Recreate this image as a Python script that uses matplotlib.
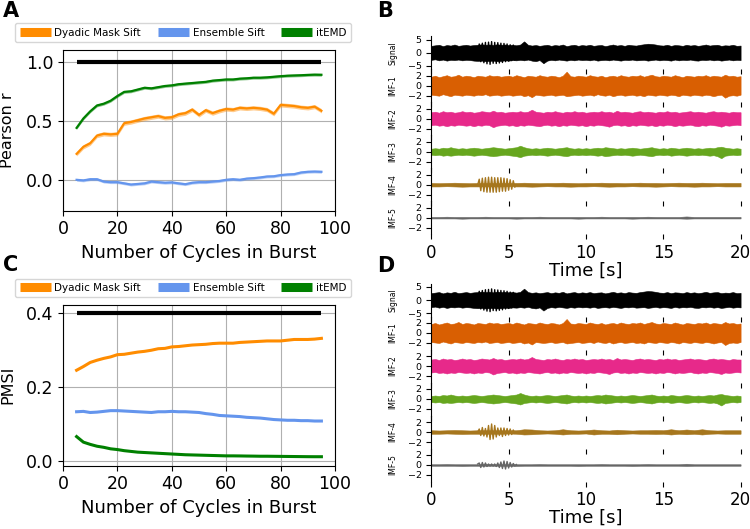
import numpy as np
import matplotlib.pyplot as plt
from matplotlib.lines import Line2D

# ---------------- A / C : burst simulation summary ----------------
cycles = np.arange(5, 95.1, 2.5)
method_names = ['Dyadic Mask Sift', 'Ensemble Sift', 'itEMD']

r_dyadic = [0.22, 0.28, 0.31, 0.375, 0.39, 0.385, 0.39, 0.48, 0.49, 0.505, 0.52, 0.53, 0.54,
            0.525, 0.53, 0.555, 0.565, 0.595, 0.55, 0.59, 0.565, 0.585, 0.60, 0.595, 0.61,
            0.605, 0.61, 0.605, 0.595, 0.56, 0.635, 0.63, 0.625, 0.615, 0.61, 0.62, 0.585]
r_ensemble = [0.0, -0.005, 0.005, 0.005, -0.015, -0.02, -0.02, -0.03, -0.04, -0.035, -0.03,
              -0.015, -0.02, -0.025, -0.022, -0.03, -0.037, -0.025, -0.02, -0.02, -0.015,
              -0.01, 0.0, 0.005, 0.0, 0.01, 0.014, 0.02, 0.028, 0.03, 0.04, 0.045, 0.048,
              0.062, 0.068, 0.07, 0.068]
r_itemd = [0.44, 0.52, 0.58, 0.63, 0.645, 0.67, 0.71, 0.745, 0.75, 0.765, 0.78, 0.775, 0.785,
           0.795, 0.80, 0.81, 0.815, 0.82, 0.825, 0.83, 0.84, 0.845, 0.85, 0.85, 0.857, 0.86,
           0.865, 0.865, 0.868, 0.873, 0.878, 0.882, 0.884, 0.886, 0.889, 0.891, 0.89]
r_sem = [0.018, 0.012, 0.012]
r_ceiling = 1.0

pmsi_dyadic = [0.245, 0.255, 0.266, 0.272, 0.277, 0.281, 0.287, 0.288, 0.291, 0.294, 0.296,
               0.299, 0.303, 0.304, 0.308, 0.309, 0.311, 0.313, 0.314, 0.315, 0.317, 0.318,
               0.318, 0.318, 0.32, 0.321, 0.322, 0.323, 0.324, 0.324, 0.324, 0.326, 0.328,
               0.328, 0.328, 0.329, 0.331]
pmsi_ensemble = [0.133, 0.134, 0.131, 0.132, 0.134, 0.136, 0.136, 0.135, 0.134, 0.133, 0.132,
                 0.131, 0.133, 0.133, 0.134, 0.133, 0.133, 0.132, 0.131, 0.128, 0.126, 0.123,
                 0.122, 0.121, 0.12, 0.118, 0.117, 0.116, 0.114, 0.112, 0.111, 0.11, 0.11,
                 0.109, 0.109, 0.108, 0.108]
pmsi_itemd = [0.066, 0.051, 0.045, 0.04, 0.037, 0.033, 0.031, 0.028, 0.026, 0.024, 0.023,
              0.022, 0.021, 0.02, 0.019, 0.018, 0.017, 0.0165, 0.016, 0.0155, 0.015, 0.0145,
              0.014, 0.014, 0.0138, 0.0135, 0.0133, 0.013, 0.013, 0.0128, 0.0126, 0.0124,
              0.0122, 0.012, 0.0118, 0.0117, 0.0117]
pmsi_ceiling = 0.4

# ---------------- B / D : example decompositions ----------------
# upper/lower edges of the noisy traces every 0.25 s (thin traces every 0.5 s),
# burst peaks/troughs every 0.1 s
env_t = np.arange(0, 20.01, 0.25)
base_t = np.arange(0, 20.01, 0.5)
burst_t = np.arange(3.0, 5.51, 0.1)

sig_hi = [2.6, 2.8, 3.0, 2.5, 2.9, 2.7, 3.1, 2.6, 2.8, 3.0,
          2.7, 2.9, 3.0, 3.2, 3.0, 3.1, 2.9, 3.2, 3.0, 3.1,
          2.9, 3.0, 2.8, 3.1, 4.3, 3.0, 2.7, 2.9, 2.6, 2.8,
          3.0, 2.6, 2.9, 2.7, 3.1, 2.5, 2.8, 3.0, 2.6, 2.9,
          2.7, 3.0, 2.6, 2.8, 2.9, 2.5, 2.8, 3.1, 2.7, 2.9,
          2.6, 3.0, 2.8, 2.7, 3.0, 3.2, 3.4, 3.3, 3.1, 2.8,
          2.7, 3.0, 2.6, 2.9, 2.8, 2.6, 3.0, 2.7, 2.9, 2.6,
          2.8, 3.1, 2.7, 2.9, 3.0, 2.6, 2.8, 2.7, 3.0, 2.6,
          2.7]
sig_lo = [-2.7, -2.5, -2.9, -2.6, -3.0, -2.7, -2.8, -2.6, -2.9, -2.7,
          -2.8, -3.0, -3.1, -3.0, -3.2, -3.1, -3.0, -3.2, -3.1, -2.9,
          -3.0, -2.8, -2.9, -2.7, -2.9, -2.6, -3.0, -3.2, -2.8, -4.0,
          -3.0, -2.7, -2.9, -2.6, -2.8, -3.0, -2.7, -2.9, -2.6, -2.8,
          -2.7, -2.9, -2.6, -3.0, -2.8, -2.7, -2.9, -2.6, -2.8, -3.0,
          -2.7, -2.8, -2.6, -2.9, -2.8, -2.7, -3.0, -2.8, -2.6, -2.9,
          -2.7, -2.8, -3.0, -2.6, -2.9, -2.7, -2.8, -2.6, -2.9, -3.0,
          -2.7, -2.8, -2.6, -2.9, -2.7, -3.0, -2.8, -2.6, -2.9, -2.7,
          -2.8]
sig_burst = [0.0, 3.3, -3.4, 3.6, -3.8, 3.9, -4.2, 4.0, -4.4, 4.2, -4.0, 3.9, -4.1, 3.8,
             -3.9, 3.6, -3.7, 3.5, -3.4, 3.3, -3.2, 3.0, -3.0, 2.9, -2.8, 0.0]

imf1_hi = [1.8, 2.0, 1.7, 1.9, 2.1, 1.8, 1.9, 2.2, 1.8, 2.0,
           1.9, 1.7, 2.0, 1.9, 1.8, 2.1, 1.9, 2.0, 1.8, 1.9,
           2.0, 1.8, 2.1, 1.9, 1.7, 2.0, 1.9, 1.8, 2.1, 1.9,
           1.8, 2.0, 1.9, 1.7, 2.0, 2.8, 1.9, 1.8, 2.0, 1.9,
           1.8, 2.1, 1.9, 1.8, 2.0, 1.7, 1.9, 2.0, 1.8, 2.1,
           1.9, 1.8, 2.0, 1.9, 2.1, 1.8, 2.0, 2.2, 1.9, 1.8,
           2.0, 1.9, 1.8, 2.1, 1.9, 1.7, 2.0, 1.9, 1.8, 2.0,
           1.9, 2.1, 1.8, 2.0, 1.9, 1.8, 2.2, 1.9, 2.0, 1.8,
           1.9]
imf1_lo = [-1.8, -1.9, -2.0, -1.7, -1.9, -2.1, -1.8, -1.9, -2.0, -1.8,
           -1.9, -2.0, -1.8, -1.9, -1.7, -2.0, -1.9, -1.8, -2.0, -1.9,
           -1.8, -2.0, -1.9, -1.8, -2.1, -1.9, -2.3, -1.8, -1.9, -2.0,
           -1.9, -1.8, -2.0, -1.9, -1.8, -2.1, -2.0, -1.9, -1.8, -2.0,
           -1.9, -1.8, -2.0, -1.7, -1.9, -2.0, -1.8, -2.1, -1.9, -1.8,
           -2.0, -1.9, -1.8, -2.0, -1.9, -2.1, -1.8, -1.9, -2.0, -1.8,
           -1.9, -2.0, -1.8, -1.9, -2.1, -1.8, -1.9, -2.0, -1.8, -1.9,
           -2.0, -1.8, -1.9, -2.1, -1.9, -1.8, -2.4, -2.0, -1.9, -2.0,
           -1.8]
imf2_hi = [1.3, 1.4, 1.2, 1.5, 1.3, 1.4, 1.2, 1.3, 1.5, 1.3,
           1.4, 1.2, 1.3, 1.5, 1.4, 1.3, 1.6, 1.3, 1.4, 1.2,
           1.3, 1.4, 1.3, 1.5, 1.3, 1.4, 1.8, 1.4, 1.3, 1.2,
           1.4, 1.3, 1.5, 1.3, 1.2, 1.4, 1.3, 1.5, 1.3, 1.4,
           1.2, 1.3, 1.4, 1.3, 1.5, 1.3, 1.4, 1.2, 1.6, 1.3,
           1.4, 1.3, 1.2, 1.4, 1.5, 1.3, 1.4, 1.3, 1.2, 1.4,
           1.3, 1.5, 1.3, 1.4, 1.2, 1.3, 1.4, 1.5, 1.3, 1.4,
           1.3, 1.2, 1.4, 1.5, 1.3, 1.4, 1.3, 1.2, 1.4, 1.3,
           1.3]
imf2_lo = [-1.3, -1.2, -1.4, -1.3, -1.5, -1.3, -1.4, -1.2, -1.3, -1.4,
           -1.3, -1.5, -1.3, -1.4, -1.2, -1.3, -1.7, -1.4, -1.3, -1.2,
           -1.4, -1.3, -1.5, -1.3, -1.4, -1.2, -1.3, -1.4, -1.5, -1.3,
           -1.2, -1.4, -1.3, -1.5, -1.3, -1.4, -1.2, -1.3, -1.4, -1.3,
           -1.5, -1.3, -1.4, -1.2, -1.3, -1.4, -1.6, -1.3, -1.2, -1.4,
           -1.3, -1.5, -1.3, -1.4, -1.2, -1.3, -1.4, -1.3, -1.5, -1.3,
           -1.4, -1.2, -1.3, -1.5, -1.3, -1.4, -1.3, -1.2, -1.4, -1.5,
           -1.3, -1.4, -1.2, -1.3, -1.4, -1.6, -1.3, -1.4, -1.3, -1.2,
           -1.3]
imf3_hi = [0.6, 0.7, 0.6, 0.8, 0.7, 0.9, 0.7, 0.6, 0.7, 0.6,
           0.7, 0.8, 0.7, 0.6, 0.7, 0.8, 0.9, 0.8, 0.7, 0.6,
           0.7, 0.8, 0.9, 1.2, 0.9, 0.7, 0.6, 0.7, 0.6, 0.7,
           0.8, 0.7, 0.6, 0.7, 0.8, 0.9, 0.7, 0.6, 0.7, 0.6,
           0.7, 0.6, 0.7, 0.8, 0.7, 0.9, 0.8, 0.7, 0.6, 0.7,
           0.6, 0.7, 0.8, 0.7, 0.6, 0.7, 0.8, 0.9, 0.7, 0.6,
           0.7, 0.6, 0.8, 0.7, 0.6, 0.7, 0.8, 0.7, 0.6, 0.7,
           0.6, 0.7, 0.8, 0.7, 0.9, 1.0, 0.8, 0.7, 0.6, 0.7,
           0.6]
imf3_lo = [-0.6, -0.7, -0.6, -0.8, -0.7, -0.8, -0.7, -0.6, -0.7, -0.6,
           -0.7, -0.8, -0.7, -0.6, -0.7, -0.8, -0.9, -0.8, -0.7, -0.6,
           -0.7, -0.8, -0.9, -1.1, -0.8, -0.7, -0.6, -0.7, -0.6, -0.7,
           -0.8, -0.7, -0.6, -0.7, -0.8, -0.9, -0.7, -0.6, -0.7, -0.6,
           -0.7, -0.6, -0.7, -0.8, -0.7, -0.9, -0.8, -0.7, -0.6, -0.7,
           -0.6, -0.7, -0.8, -0.7, -0.6, -0.7, -0.8, -0.9, -0.7, -0.6,
           -0.7, -0.6, -0.8, -0.7, -0.6, -0.7, -0.8, -0.7, -0.6, -0.7,
           -0.6, -0.7, -0.8, -0.7, -0.9, -1.3, -0.8, -0.7, -0.6, -0.7,
           -0.6]

# panel B (dyadic mask sift), IMF-4 / IMF-5
imf4b_hi = [0.35, 0.3, 0.35, 0.4, 0.35, 0.3, 0.35, 0.35, 0.35, 0.35, 0.35, 0.35, 0.4, 0.35, 0.3,
            0.35, 0.35, 0.4, 0.35, 0.3, 0.35, 0.35, 0.4, 0.35, 0.35, 0.3, 0.35, 0.4, 0.35, 0.35,
            0.3, 0.35, 0.4, 0.35, 0.35, 0.4, 0.35, 0.3, 0.35, 0.35, 0.35]
imf4b_lo = [-0.35, -0.35, -0.3, -0.35, -0.4, -0.35, -0.35, -0.35, -0.35, -0.35, -0.3, -0.35,
            -0.35, -0.4, -0.35, -0.3, -0.35, -0.35, -0.4, -0.35, -0.35, -0.3, -0.35, -0.4, -0.35,
            -0.35, -0.3, -0.35, -0.35, -0.4, -0.35, -0.3, -0.35, -0.35, -0.4, -0.35, -0.35,
            -0.3, -0.35, -0.35, -0.35]
imf4b_burst = [0.0, 1.1, -1.2, 1.3, -1.4, 1.4, -1.5, 1.5, -1.5, 1.5, -1.5, 1.4, -1.5, 1.4,
               -1.4, 1.4, -1.3, 1.3, -1.3, 1.2, -1.1, 1.0, -0.9, 0.8, -0.5, 0.0]
imf5b_hi = [0.15, 0.15, 0.2, 0.15, 0.15, 0.15, 0.15, 0.2, 0.15, 0.15, 0.15, 0.15, 0.15, 0.15,
            0.2, 0.15, 0.15, 0.15, 0.15, 0.15, 0.15, 0.15, 0.2, 0.15, 0.15, 0.15, 0.15, 0.15,
            0.2, 0.15, 0.15, 0.15, 0.15, 0.25, 0.15, 0.15, 0.15, 0.15, 0.15, 0.15, 0.15]
imf5b_lo = [-0.15, -0.15, -0.15, -0.15, -0.2, -0.15, -0.15, -0.15, -0.15, -0.15, -0.15, -0.2,
            -0.15, -0.15, -0.15, -0.15, -0.15, -0.15, -0.15, -0.2, -0.15, -0.15, -0.15, -0.15,
            -0.15, -0.15, -0.2, -0.15, -0.15, -0.15, -0.15, -0.15, -0.15, -0.2, -0.15, -0.15,
            -0.15, -0.15, -0.15, -0.15, -0.15]

# panel D (itEMD), IMF-4 / IMF-5
imf4d_hi = [0.35, 0.3, 0.35, 0.4, 0.35, 0.3, 0.35, 0.35, 0.35, 0.35, 0.35, 0.35, 0.55, 0.5,
            0.35, 0.3, 0.35, 0.55, 0.35, 0.3, 0.35, 0.5, 0.35, 0.3, 0.45, 0.35, 0.3, 0.35, 0.35,
            0.4, 0.35, 0.55, 0.35, 0.5, 0.35, 0.55, 0.35, 0.3, 0.35, 0.35, 0.35]
imf4d_lo = [-0.35, -0.35, -0.3, -0.35, -0.4, -0.35, -0.35, -0.35, -0.35, -0.35, -0.3, -0.35,
            -0.5, -0.45, -0.35, -0.3, -0.35, -0.5, -0.35, -0.35, -0.3, -0.5, -0.35, -0.35, -0.45,
            -0.35, -0.3, -0.35, -0.35, -0.4, -0.35, -0.5, -0.35, -0.45, -0.35, -0.5, -0.35, -0.3,
            -0.35, -0.35, -0.35]
imf4d_burst = [0.0, 0.6, -0.7, 0.9, -0.8, 0.7, -1.0, 1.3, -1.5, 1.6, -1.4, 1.3, -1.0, 0.8,
               -0.7, 0.8, -0.9, 0.8, -0.7, 0.7, -0.6, 0.6, -0.5, 0.4, -0.3, 0.0]
imf5d_hi = imf5b_hi
imf5d_lo = imf5b_lo
imf5d_burst = [0.2, 0.4, -0.5, 0.5, -0.4, 0.4, -0.3, 0.2, -0.2, 0.2, -0.2, 0.2, -0.3, 0.4,
               -0.5, 0.6, -0.7, 0.8, -0.8, 0.7, -0.6, 0.5, -0.4, 0.3, -0.2, 0.1]

row_names = ['Signal', 'IMF-1', 'IMF-2', 'IMF-3', 'IMF-4', 'IMF-5']
row_colors = ['k', '#d95f02', '#e7298a', '#66a61e', '#a6761d', '#666666']
method_colors = ['darkorange', 'cornflowerblue', 'green']

W, H = 750, 529
fig = plt.figure(figsize=(7.5, 5.29), dpi=100)


def summary_axes(bottom, series, sems, ceiling, ylim, yticks, ylabel, legend_y):
    ax = fig.add_axes([63 / W, bottom, 272 / W, 160.5 / H])
    ax.grid(True, color='#b0b0b0', lw=0.8)
    ax.set_axisbelow(True)
    for vals, sem, c in zip(series, sems, method_colors):
        vals = np.array(vals)
        if sem:
            ax.fill_between(cycles, vals - sem, vals + sem, color=c, alpha=0.45, lw=0)
        ax.plot(cycles, vals, color=c, lw=1.6 if sem else 2.2)
    ax.hlines(ceiling, cycles[0], cycles[-1], color='k', lw=3)
    ax.set_xlim(0, 100)
    ax.set_ylim(*ylim)
    ax.set_xticks([0, 20, 40, 60, 80, 100])
    ax.set_yticks(yticks)
    ax.tick_params(labelsize=12.5)
    ax.set_xlabel('Number of Cycles in Burst', fontsize=13)
    ax.set_ylabel(ylabel, fontsize=11.5)
    ax.yaxis.set_label_coords(-0.176, 0.5)
    handles = [Line2D([0], [0], color=c, lw=6.5, solid_capstyle='butt') for c in method_colors]
    fig.legend(handles, method_names, loc='center', bbox_to_anchor=(183 / W, legend_y),
               ncol=3, fontsize=7.5, handlelength=3, handletextpad=0.35,
               columnspacing=1.6, borderpad=0.4)
    return ax


summary_axes(1 - 210.5 / H, [r_dyadic, r_ensemble, r_itemd], r_sem, r_ceiling,
             (-0.26, 1.10), [0.0, 0.5, 1.0], 'Pearson r', 1 - 32.5 / H)
summary_axes(1 - 465.5 / H, [pmsi_dyadic, pmsi_ensemble, pmsi_itemd], [0, 0, 0], pmsi_ceiling,
             (-0.012, 0.421), [0.0, 0.2, 0.4], 'PMSI', 1 - 288 / H)


def imf_stack(top, rows):
    h = 33 / H
    for i, (tt, hi, lo, burst) in enumerate(rows):
        ax = fig.add_axes([431.3 / W, top - (i + 1) * h, 309.3 / W, h])
        ax.patch.set_visible(False)
        ax.fill_between(tt, lo, hi, color=row_colors[i], lw=0.4)
        if burst is not None:
            ax.plot(burst_t, burst, color=row_colors[i], lw=1.0)
        lim = 6.25 if i == 0 else 3.3
        ax.set_ylim(-lim, lim)
        ax.set_yticks([-5, 0, 5] if i == 0 else [-2, 0, 2])
        ax.set_xlim(0, 20)
        ax.set_xticks([0, 5, 10, 15, 20])
        for s in ['top', 'right', 'bottom']:
            ax.spines[s].set_visible(False)
        ax.tick_params(axis='y', labelsize=6.8)
        ax.set_ylabel(row_names[i], fontsize=5.5)
        ax.yaxis.set_label_coords(-0.11, 0.5)
        if i < len(rows) - 1:
            ax.tick_params(axis='x', labelbottom=False)
        else:
            ax.tick_params(axis='x', labelsize=12)
            ax.set_xlabel('Time [s]', fontsize=13, labelpad=0)


imf_stack(1 - 36.2 / H, [(env_t, sig_hi, sig_lo, sig_burst), (env_t, imf1_hi, imf1_lo, None),
                         (env_t, imf2_hi, imf2_lo, None), (env_t, imf3_hi, imf3_lo, None),
                         (base_t, imf4b_hi, imf4b_lo, imf4b_burst),
                         (base_t, imf5b_hi, imf5b_lo, None)])
imf_stack(1 - 283.5 / H, [(env_t, sig_hi, sig_lo, sig_burst), (env_t, imf1_hi, imf1_lo, None),
                          (env_t, imf2_hi, imf2_lo, None), (env_t, imf3_hi, imf3_lo, None),
                          (base_t, imf4d_hi, imf4d_lo, imf4d_burst),
                          (base_t, imf5d_hi, imf5d_lo, imf5d_burst)])

for letter, x, y in [('A', 3, 1), ('B', 377, 1), ('C', 3, 255), ('D', 377, 256)]:
    fig.text(x / W, 1 - y / H, letter, fontsize=15, fontweight='bold', va='top', ha='left')

fig.savefig('out.png', dpi=100)
